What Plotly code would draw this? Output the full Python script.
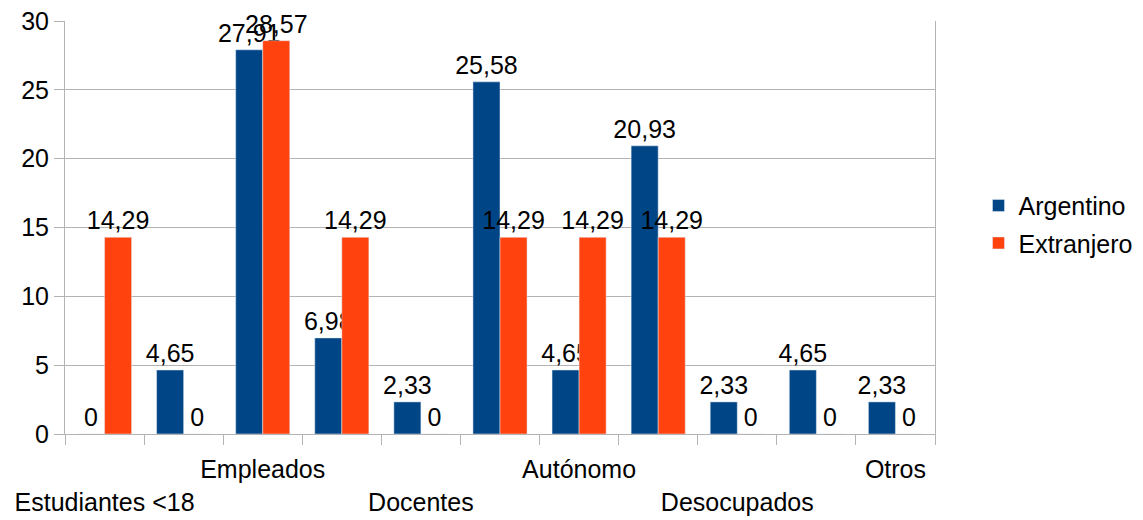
import plotly.graph_objects as go

groups = list(range(11))
labels = ["Estudiantes &lt;18", "", "Empleados", "", "Docentes", "",
          "Autónomo", "", "Desocupados", "", "Otros"]
argentino = [0, 4.65, 27.91, 6.98, 2.33, 25.58, 4.65, 20.93, 2.33, 4.65, 2.33]
extranjero = [14.29, 0, 28.57, 14.29, 0, 14.29, 14.29, 14.29, 0, 0, 0]
yticks = [0, 5, 10, 15, 20, 25, 30]

def fmt(v):
    return f"{v:g}".replace(".", ",")

ticktext = []
for i, lab in enumerate(labels):
    ticktext.append(lab if i % 4 == 2 else ("<br>" + lab if lab else ""))

FONT = "Liberation Sans, Arial, sans-serif"
FS = 25

fig = go.Figure()
fig.add_trace(go.Bar(
    x=groups, y=argentino, name="Argentino", marker_color="#004586",
    text=[fmt(v) for v in argentino], textposition="outside",
    textfont=dict(size=FS, color="black", family=FONT),
    constraintext="none", cliponaxis=False, legendgroup="a",
))
fig.add_trace(go.Bar(
    x=groups, y=extranjero, name="Extranjero", marker_color="#ff420e",
    text=[fmt(v) for v in extranjero], textposition="outside",
    textfont=dict(size=FS, color="black", family=FONT),
    constraintext="none", cliponaxis=False, legendgroup="b",
))

fig.update_layout(
    width=1143, height=520,
    margin=dict(l=65, r=208, t=21, b=86, autoexpand=False),
    paper_bgcolor="white", plot_bgcolor="white",
    font=dict(family=FONT, size=FS, color="black"),
    barmode="group", bargap=0.316, bargroupgap=0,
    showlegend=True,
    legend=dict(x=1.050, y=0.508, xanchor="left", yanchor="middle",
                font=dict(size=FS, family=FONT, color="black"),
                tracegroupgap=2, bgcolor="rgba(0,0,0,0)"),
    xaxis=dict(
        type="category", tickmode="array", tickvals=groups, ticktext=ticktext,
        tickson="boundaries", ticks="outside", ticklen=10, tickcolor="#b3b3b3",
        tickangle=0, automargin=False, ticklabelstandoff=13,
        showgrid=False, showline=True, linecolor="#b3b3b3", linewidth=1,
        tickfont=dict(size=FS, family=FONT, color="black"),
    ),
    yaxis=dict(
        range=[0, 30.001], tickmode="array", tickvals=yticks,
        ticks="outside", ticklen=10, tickcolor="#b3b3b3", automargin=False,
        ticklabeloverflow="allow",
        showgrid=True, gridcolor="#b3b3b3", gridwidth=1,
        showline=True, linecolor="#b3b3b3", linewidth=1, mirror=True,
        zeroline=False,
        tickfont=dict(size=FS, family=FONT, color="black"),
    ),
)

fig.write_html("out.html", config={"displayModeBar": False},
               post_script="document.body.style.margin='0px';document.body.style.overflow='hidden';")
